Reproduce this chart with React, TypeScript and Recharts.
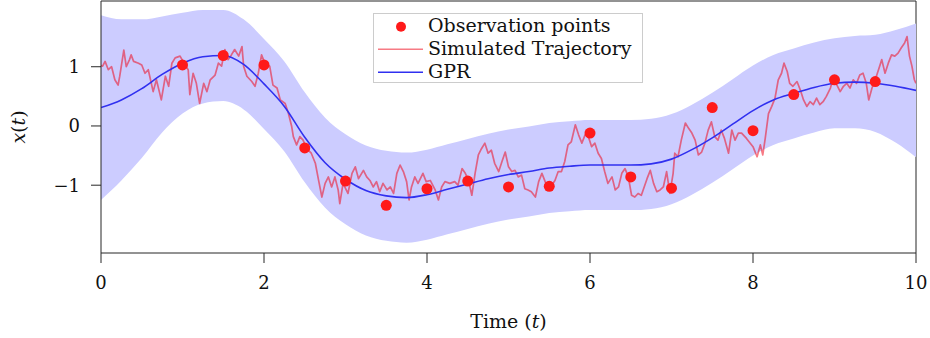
import React from 'react';
import { ComposedChart, Area, Line, Scatter, XAxis, YAxis, Legend, Label, CartesianGrid } from 'recharts';

// GPR posterior, sampled every 0.25
const gridT = [
  0, 0.25, 0.5, 0.75, 1, 1.25, 1.5, 1.75, 2, 2.25, 2.5, 2.75, 3, 3.25, 3.5, 3.75, 4, 4.25, 4.5, 4.75, 5,
  5.25, 5.5, 5.75, 6, 6.25, 6.5, 6.75, 7, 7.25, 7.5, 7.75, 8, 8.25, 8.5, 8.75, 9, 9.25, 9.5, 9.75, 10,
];
const gprMean = [
  0.31, 0.44, 0.63, 0.87, 1.06, 1.17, 1.19, 1.04, 0.71, 0.33, -0.19, -0.62, -0.9, -1.09, -1.18, -1.21, -1.16,
  -1.07, -0.98, -0.89, -0.82, -0.77, -0.71, -0.68, -0.66, -0.66, -0.66, -0.64, -0.56, -0.4, -0.2, 0.03, 0.26,
  0.44, 0.55, 0.65, 0.72, 0.74, 0.72, 0.67, 0.6,
];
const bandHalf = [
  1.56, 1.36, 1.17, 0.98, 0.85, 0.79, 0.77, 0.76, 0.76, 0.76, 0.76, 0.76, 0.76, 0.76, 0.76, 0.76, 0.76,
  0.76, 0.76, 0.76, 0.76, 0.76, 0.76, 0.76, 0.76, 0.76, 0.76, 0.76, 0.76, 0.76, 0.76, 0.76, 0.76, 0.76,
  0.76, 0.76, 0.76, 0.78, 0.82, 0.95, 1.13,
];

// observation points
const obsT = [1, 1.5, 2, 2.5, 3, 3.5, 4, 4.5, 5, 5.5, 6, 6.5, 7, 7.5, 8, 8.5, 9, 9.5];
const obsX = [
  1.03, 1.19, 1.03, -0.37, -0.93, -1.34, -1.06, -0.93, -1.03, -1.02, -0.12, -0.86, -1.05, 0.31, -0.08, 0.53,
  0.78, 0.75,
];

// simulated trajectory
const trajT = [
  0, 0.02, 0.05, 0.09, 0.13, 0.17, 0.21, 0.23, 0.28, 0.31, 0.35, 0.37, 0.4, 0.46, 0.5, 0.54, 0.58, 0.64, 0.68,
  0.74, 0.79, 0.83, 0.87, 0.91, 0.97, 1.03, 1.07, 1.09, 1.13, 1.17, 1.21, 1.26, 1.3, 1.34, 1.4, 1.44, 1.48,
  1.52, 1.56, 1.6, 1.64, 1.69, 1.73, 1.75, 1.79, 1.85, 1.89, 1.93, 1.97, 2.01, 2.07, 2.11, 2.16, 2.2, 2.26,
  2.3, 2.34, 2.36, 2.4, 2.44, 2.48, 2.52, 2.58, 2.63, 2.67, 2.71, 2.75, 2.79, 2.83, 2.87, 2.91, 2.93, 2.97,
  3.03, 3.08, 3.12, 3.16, 3.22, 3.26, 3.3, 3.34, 3.38, 3.42, 3.46, 3.51, 3.55, 3.59, 3.63, 3.67, 3.71, 3.75,
  3.78, 3.81, 3.85, 3.89, 3.95, 3.99, 4.04, 4.1, 4.14, 4.18, 4.22, 4.28, 4.34, 4.38, 4.43, 4.47, 4.51, 4.55,
  4.59, 4.63, 4.67, 4.71, 4.75, 4.79, 4.83, 4.88, 4.92, 4.96, 5.0, 5.04, 5.08, 5.12, 5.16, 5.2, 5.24, 5.28,
  5.33, 5.37, 5.41, 5.45, 5.49, 5.53, 5.57, 5.61, 5.65, 5.69, 5.73, 5.77, 5.82, 5.86, 5.9, 5.94, 5.98, 6.02,
  6.06, 6.1, 6.14, 6.18, 6.22, 6.27, 6.31, 6.35, 6.39, 6.43, 6.47, 6.51, 6.55, 6.59, 6.63, 6.7, 6.74, 6.78,
  6.82, 6.86, 6.9, 6.94, 6.98, 7.02, 7.04, 7.08, 7.12, 7.17, 7.21, 7.25, 7.29, 7.33, 7.37, 7.41, 7.45, 7.49,
  7.53, 7.57, 7.61, 7.65, 7.7, 7.74, 7.78, 7.82, 7.86, 7.92, 8.0, 8.05, 8.09, 8.12, 8.15, 8.19, 8.23, 8.27,
  8.31, 8.35, 8.38, 8.42, 8.45, 8.49, 8.54, 8.58, 8.62, 8.66, 8.7, 8.74, 8.78, 8.82, 8.86, 8.9, 8.95, 8.99,
  9.03, 9.07, 9.11, 9.15, 9.19, 9.23, 9.27, 9.31, 9.35, 9.39, 9.42, 9.46, 9.5, 9.54, 9.58, 9.62, 9.66, 9.7,
  9.74, 9.78, 9.82, 9.86, 9.89, 9.92, 9.95, 9.98, 10,
];
const trajX = [
  1.02, 1.01, 1.09, 0.95, 1.0, 0.78, 0.69, 0.84, 1.28, 1.0, 1.12, 1.2, 1.09, 1.06, 1.03, 0.89, 0.95, 0.58, 0.78,
  0.44, 0.84, 0.67, 1.06, 1.15, 1.18, 1.03, 0.95, 0.53, 0.89, 0.72, 0.38, 0.72, 0.58, 0.78, 0.86, 1.06, 1.01,
  1.29, 1.12, 1.2, 1.29, 1.18, 1.34, 1.01, 0.84, 0.75, 0.67, 0.89, 1.2, 1.06, 1.01, 0.69, 0.64, 0.44, 0.38,
  0.21, -0.01, -0.18, -0.32, -0.18, -0.24, -0.38, -0.46, -0.63, -0.92, -1.2, -0.97, -0.86, -1.03, -0.86, -1.08,
  -1.31, -0.97, -1.14, -0.8, -0.69, -0.89, -0.75, -0.86, -0.92, -1.03, -0.94, -1.11, -0.97, -1.08, -1.03,
  -1.14, -0.8, -0.66, -0.77, -0.94, -1.25, -1.03, -0.86, -0.97, -0.8, -0.94, -0.92, -1.08, -1.25, -1.03,
  -0.94, -0.97, -0.94, -1.0, -0.72, -0.8, -0.92, -1.17, -0.8, -0.49, -0.38, -0.29, -0.46, -0.41, -0.63, -0.77,
  -0.6, -0.44, -0.69, -0.77, -0.75, -0.86, -0.83, -1.06, -1.08, -1.11, -1.2, -0.94, -0.8, -0.94, -1.06, -1.0,
  -0.92, -0.77, -0.77, -0.6, -0.32, -0.27, 0.02, -0.15, -0.29, -0.15, -0.18, -0.35, -0.29, -0.46, -0.55,
  -0.77, -0.97, -0.86, -1.08, -1.03, -0.8, -0.72, -0.86, -1.17, -1.2, -1.14, -1.17, -0.89, -0.75, -0.97,
  -1.11, -1.08, -1.03, -0.77, -1.14, -0.8, -0.46, -0.52, -0.24, 0.05, -0.04, -0.12, -0.24, -0.49, -0.44,
  -0.29, -0.07, 0.07, -0.18, -0.24, -0.07, -0.21, -0.46, -0.07, -0.24, -0.12, -0.12, -0.21, -0.35, -0.52,
  -0.32, -0.49, -0.21, 0.21, 0.33, 0.47, 0.78, 0.89, 1.06, 0.92, 0.72, 0.67, 0.75, 0.61, 0.44, 0.33, 0.41,
  0.36, 0.47, 0.36, 0.41, 0.5, 0.64, 0.84, 0.69, 0.58, 0.67, 0.72, 0.64, 0.78, 0.72, 0.86, 0.89, 0.72, 0.44,
  0.64, 0.78, 0.95, 1.12, 0.89, 1.06, 1.2, 1.18, 1.23, 1.32, 1.4, 1.51, 1.18, 1.01, 0.78, 0.72,
];

const xTicks = [0, 2, 4, 6, 8, 10];
const yTicks = [-1, 0, 1];

const FONT = '"DejaVu Serif", serif';
const AXIS = '#262626';
const DOT = '#ff1a1a';
const TRAJ = 'rgba(240,0,20,0.52)';
const GPR = '#3030f0';
const BAND = '#ccccff';

const gprRows = gridT.map((t, i) => ({
  t,
  mean: gprMean[i],
  band: [gprMean[i] - bandHalf[i], gprMean[i] + bandHalf[i]],
}));
const trajRows = trajT.map((t, i) => ({ t, x: trajX[i] }));
const obsRows = obsT.map((t, i) => ({ t, x: obsX[i] }));

const fmtY = (v: number) => (v < 0 ? '\u2212' + Math.abs(v) : String(v));

const renderLegend = () => (
  <svg width={270} height={70} style={{ display: 'block' }}>
    <rect x={0.5} y={0.5} width={269} height={69} fill="#fff" stroke="#cccccc" />
    <circle cx={28} cy={13.7} r={5} fill={DOT} />
    <text x={55} y={18.7} fontFamily={FONT} fontSize={19} fill="#111">Observation points</text>
    <line x1={5} x2={50} y1={36.3} y2={36.3} stroke={TRAJ} strokeWidth={1.5} />
    <text x={55} y={42} fontFamily={FONT} fontSize={19} fill="#111">Simulated Trajectory</text>
    <line x1={5} x2={50} y1={59.3} y2={59.3} stroke={GPR} strokeWidth={1.5} />
    <text x={55} y={65.3} fontFamily={FONT} fontSize={19} fill="#111">GPR</text>
  </svg>
);

export default function App() {
  return (
    <div style={{ position: 'absolute', left: 0, top: 0, width: 930, height: 338, background: '#fff' }}>
      <ComposedChart width={930} height={338} data={gprRows} margin={{ top: 1, right: 14, bottom: 0, left: 0 }}>
        <Area
          type="monotone"
          dataKey="band"
          stroke="none"
          fill={BAND}
          fillOpacity={1}
          isAnimationActive={false}
          activeDot={false}
        />
        {/* top and right sides of the frame */}
        <CartesianGrid
          stroke={AXIS}
          strokeWidth={1}
          horizontalCoordinatesGenerator={({ offset }: any) => [offset.top]}
          verticalCoordinatesGenerator={({ offset }: any) => [offset.left + offset.width]}
        />
        <XAxis
          dataKey="t"
          type="number"
          domain={[0, 10]}
          ticks={xTicks}
          allowDataOverflow
          height={85}
          stroke={AXIS}
          tickSize={10}
          tickMargin={13}
          tick={{ fill: '#111', fontSize: 18, fontFamily: FONT }}
        >
          <Label
            content={(p: any) => {
              const vb = p.viewBox;
              return (
                <text
                  x={vb.x + vb.width / 2}
                  y={vb.y + 68}
                  textAnchor="middle"
                  dominantBaseline="central"
                  fontFamily={FONT}
                  fontSize={19}
                  fill="#111"
                >
                  Time (<tspan fontStyle="italic">t</tspan>)
                </text>
              );
            }}
          />
        </XAxis>
        <YAxis
          type="number"
          domain={[-2.145, 2.11]}
          ticks={yTicks}
          allowDataOverflow
          width={101}
          stroke={AXIS}
          tickSize={10}
          tickMargin={11}
          tickFormatter={fmtY}
          tick={{ fill: '#111', fontSize: 18, fontFamily: FONT }}
        >
          <Label
            content={(p: any) => {
              const vb = p.viewBox;
              const cx = vb.x + 18;
              const cy = vb.y + vb.height / 2;
              return (
                <text
                  x={cx}
                  y={cy}
                  transform={`rotate(-90 ${cx} ${cy})`}
                  textAnchor="middle"
                  dominantBaseline="central"
                  fontFamily={FONT}
                  fontSize={19}
                  fill="#111"
                >
                  <tspan fontStyle="italic">x</tspan>(<tspan fontStyle="italic">t</tspan>)
                </text>
              );
            }}
          />
        </YAxis>
        <Line
          data={trajRows}
          type="linear"
          dataKey="x"
          stroke={TRAJ}
          strokeWidth={1.7}
          strokeLinejoin="round"
          dot={false}
          activeDot={false}
          isAnimationActive={false}
        />
        <Line
          type="monotone"
          dataKey="mean"
          stroke={GPR}
          strokeWidth={1.6}
          dot={false}
          activeDot={false}
          isAnimationActive={false}
        />
        <Scatter
          data={obsRows}
          dataKey="x"
          fill={DOT}
          isAnimationActive={false}
          shape={(p: any) => <circle cx={p.cx} cy={p.cy} r={5.5} fill={DOT} />}
        />
        <Legend
          layout="vertical"
          align="center"
          verticalAlign="middle"
          content={renderLegend}
          wrapperStyle={{ left: 373, top: 13, width: 270, height: 70 }}
        />
      </ComposedChart>
    </div>
  );
}
